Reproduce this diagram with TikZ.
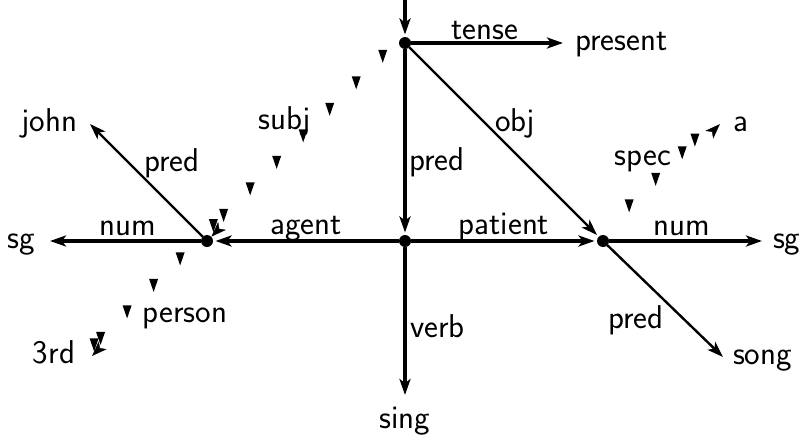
\documentclass[tikz,border=0pt]{standalone}
\usepackage{fontspec}
\usetikzlibrary{arrows.meta,decorations.markings}
\newcommand\mytri{\pgftransformresetnontranslations\fill (0,-2.5) -- (-4.5,-15.5) -- (4.5,-15.5) -- cycle;}
\tikzset{
  tipA/.tip={Stealth[length=16pt,width=11pt,inset=4pt]},
  tipB/.tip={Stealth[length=15pt,width=11pt,inset=4pt]},
}
\begin{document}
\begin{tikzpicture}[x=1pt,y=-1pt,
  lbl/.style={font=\sffamily\fontsize{33}{38}\selectfont, inner sep=0pt, outer sep=0pt, anchor=mid},
  dot/.style={circle, fill, inner sep=0pt, minimum size=12pt, outer sep=0pt},
  heavy/.style={line width=3.6pt, -{tipA}},
  light/.style={line width=2.4pt, -{tipA}},
  todot/.style={shorten >=2.5pt},
  dotarr/.style n args={3}{postaction={decorate}, decoration={markings,
      mark=between positions #1 and #2 step 37.5pt with {\mytri},
      mark=at position #3 with {\mytri},
      mark=at position 0.999 with {\arrow{tipB}}}}]
\sffamily\fontsize{33}{38}\selectfont
\useasboundingbox (0,0) rectangle (803,439);
% junction dots
\node[dot] (T) at (405,43) {};
\node[dot] (C) at (405,241) {};
\node[dot] (L) at (207,241) {};
\node[dot] (R) at (603,241) {};
\coordinate (top) at (405,0);
% value nodes
\node[lbl, anchor=mid west, inner xsep=12pt] (present) at (563,43) {present};
\node[lbl, anchor=mid east, inner xsep=15pt] (sgL) at (50,241) {sg};
\node[lbl, anchor=mid west, inner xsep=11pt] (sgR) at (762,241) {sg};
\node[lbl, anchor=north, inner ysep=12pt] (sing) at (405,395) {sing};
\node[lbl, anchor=mid east, inner xsep=13pt] (john) at (90,124) {john};
\node[lbl, anchor=mid west, inner xsep=10pt] (song) at (723,357) {song};
\node[lbl, anchor=mid west, inner xsep=13pt] (a) at (720,124) {a};
\node[lbl, anchor=mid east, inner xsep=17pt] (third) at (92,356) {3rd};
% edge labels
\node[lbl] (ltense) at (485,32) {tense};
\node[lbl, anchor=mid west] (lpredT) at (409,163) {pred};
\node[lbl] (lobj) at (515,124) {obj};
\node[lbl] (lsubj) at (285,122) {subj};
\node[lbl] (lpredL) at (172,164) {pred};
\node[lbl] (lnumL) at (128,228) {num};
\node[lbl] (lagent) at (306,227) {agent};
\node[lbl] (lpatient) at (504,227) {patient};
\node[lbl] (lnumR) at (682,228) {num};
\node[lbl] (lspec) at (643,158) {spec};
\node[lbl] (lperson) at (185,315) {person};
\node[lbl, anchor=mid west] (lverb) at (410,330) {verb};
\node[lbl] (lpredR) at (636,321) {pred};
% connectors
\draw[heavy,todot] (top) -- (T);
\draw[heavy] (T) -- (present.mid west);
\draw[heavy,todot] (T) -- (C);
\draw[light,todot] (T) -- (R);
\draw[heavy,todot] (C) -- (L);
\draw[heavy,todot] (C) -- (R);
\draw[heavy] (C) -- (sing.north);
\draw[heavy] (L) -- (sgL.mid east);
\draw[heavy] (R) -- (sgR.mid west);
\draw[light] (L) -- (john.mid east);
\draw[light] (R) -- (song.mid west);
% dotted (triangle) connectors
\path[dotarr={25.5pt}{255pt}{265pt}] (T) -- (L);
\path[dotarr={32pt}{150pt}{-3pt}] (L) -- (third.mid east);
\path[dotarr={31pt}{110pt}{124pt}] (R) -- (a.mid west);
\end{tikzpicture}
\end{document}
